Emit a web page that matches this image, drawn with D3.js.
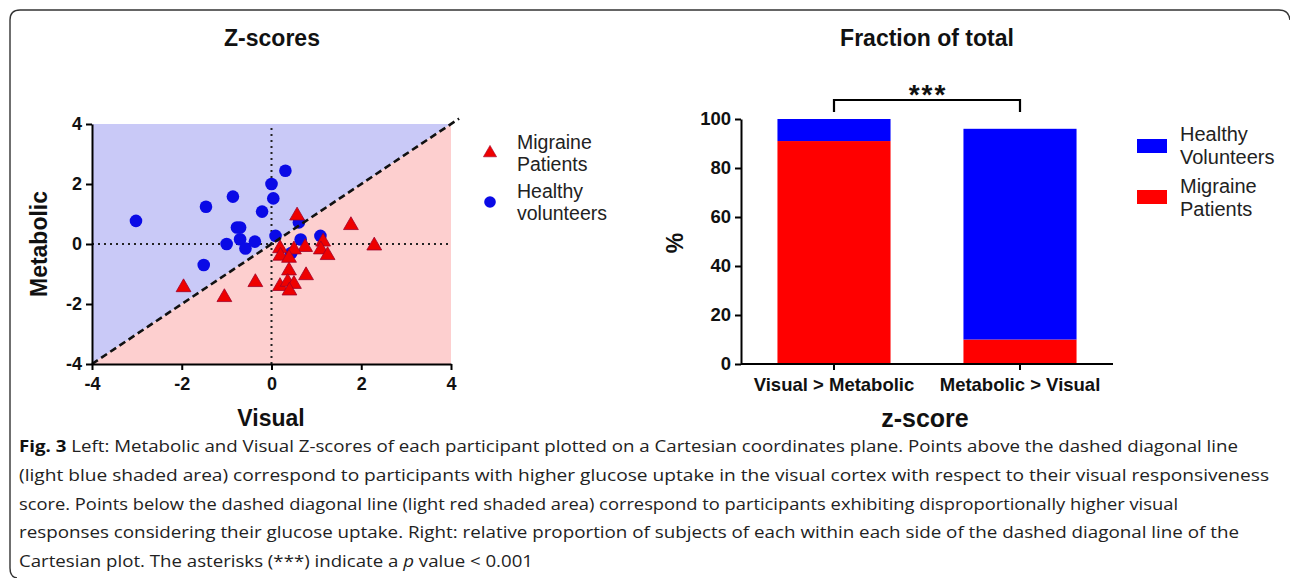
<!DOCTYPE html>
<html><head><meta charset="utf-8">
<script src="https://cdn.jsdelivr.net/npm/d3@7"></script>
<style>
html,body{margin:0;padding:0;background:#fff;}
svg{display:block;}
text{font-family:"Liberation Sans",Arial,sans-serif;}
</style></head>
<body>
<svg id="fig" width="1290" height="578"></svg>
<script>
// ---------- DATA ----------
const migraineX = [0.57,1.77,2.29,1.15,1.10,1.25,0.75,0.50,0.19,0.20,0.39,0.39,0.77,0.19,0.36,0.50,0.40,-0.36,-1.05,-1.96];
const migraineY = [0.91,0.59,-0.09,0.04,-0.22,-0.41,-0.14,-0.22,-0.18,-0.43,-0.50,-0.92,-1.08,-1.44,-1.30,-1.37,-1.59,-1.31,-1.81,-1.48];
const healthyX = [-3.02,-1.46,-0.86,-0.21,0.00,0.04,0.31,-0.77,-0.70,-0.70,-1.00,-0.58,-0.37,0.09,-1.51,0.61,0.65,1.09,0.44];
const healthyY = [0.77,1.24,1.58,1.08,2.00,1.52,2.44,0.55,0.55,0.16,0.00,-0.15,0.08,0.27,-0.70,0.72,0.15,0.27,-0.30];
const zTicks = [-4,-2,0,2,4];

const barCategories = ["Visual > Metabolic","Metabolic > Visual"];
const barMigraine = [91,10];
const barHealthy = [9,86];
const pctTicks = [0,20,40,60,80,100];

const captionLines = [
  [["Fig. 3","b"],[" Left: Metabolic and Visual Z-scores of each participant plotted on a Cartesian coordinates plane. Points above the dashed diagonal line",""]],
  [["(light blue shaded area) correspond to participants with higher glucose uptake in the visual cortex with respect to their visual responsiveness",""]],
  [["score. Points below the dashed diagonal line (light red shaded area) correspond to participants exhibiting disproportionally higher visual",""]],
  [["responses considering their glucose uptake. Right: relative proportion of subjects of each within each side of the dashed diagonal line of the",""]],
  [["Cartesian plot. The asterisks (***) indicate a ",""],["p","i"],[" value < 0.001",""]]
];
const captionWidths = [1219,1250,1159,1220,514];

// ---------- DRAW ----------
const svg = d3.select("#fig");

// frame
svg.append("path")
  .attr("d","M1290,20 Q1289,10 1279,10 L20,10 Q10,10 10,20 L10,568 Q10,577 17,578")
  .attr("fill","none").attr("stroke","#333").attr("stroke-width",1.4);

// ===== Scatter =====
const xS = d3.scaleLinear().domain([-4,4]).range([92,451]);
const yS = d3.scaleLinear().domain([-4,4]).range([364,124]);
const g1 = svg.append("g");

const poly = pts => "M" + pts.map(p => xS(p[0]) + "," + yS(p[1])).join("L") + "Z";
g1.append("path").attr("d", poly([[-4,-4],[-4,4],[4,4]])).attr("fill","#c9c9f7");
g1.append("path").attr("d", poly([[-4,-4],[4,-4],[4,4]])).attr("fill","#fdcfcf");

// dotted zero lines
g1.append("line").attr("x1",xS(-4)).attr("x2",xS(4)).attr("y1",yS(0)).attr("y2",yS(0))
  .attr("stroke","#222").attr("stroke-width",2).attr("stroke-dasharray","2,4");
g1.append("line").attr("x1",xS(0)).attr("x2",xS(0)).attr("y1",yS(-4)).attr("y2",yS(4))
  .attr("stroke","#222").attr("stroke-width",2).attr("stroke-dasharray","2,4");

// points
const healthy = healthyX.map((x,i)=>({x, y:healthyY[i]}));
const migraine = migraineX.map((x,i)=>({x, y:migraineY[i]}));
g1.selectAll("circle.h").data(healthy).join("circle")
  .attr("cx",d=>xS(d.x)).attr("cy",d=>yS(d.y)).attr("r",6.3).attr("fill","#0a0ae6");
const tri = d3.symbol().type(d3.symbolTriangle).size(95);
g1.selectAll("path.m").data(migraine).join("path")
  .attr("d",tri).attr("transform",d=>`translate(${xS(d.x)},${yS(d.y)-1})`)
  .attr("fill","#ee0000").attr("stroke","#a0002a").attr("stroke-width",0.8);

// dashed diagonal
g1.append("line").attr("x1",xS(-4)).attr("y1",yS(-4)).attr("x2",xS(4.18)).attr("y2",yS(4.18))
  .attr("stroke","#111").attr("stroke-width",2.6).attr("stroke-dasharray","7,4");

// axes
const ax = g1.append("g").attr("transform",`translate(0,${yS(-4)})`)
  .call(d3.axisBottom(xS).tickValues(zTicks).tickFormat(d=>String(d)).tickSize(6).tickSizeOuter(0));
const ay = g1.append("g").attr("transform",`translate(${xS(-4)},0)`)
  .call(d3.axisLeft(yS).tickValues(zTicks).tickFormat(d=>String(d)).tickSize(6).tickSizeOuter(0));
[ax,ay].forEach(a=>{
  a.selectAll("path,line").attr("stroke","#000").attr("stroke-width",2);
  a.selectAll("text").attr("fill","#111").style("font-size","18px").style("font-weight","bold");
});
ax.selectAll("text").attr("dy","0.95em");
ay.selectAll("text").attr("x",-10);

g1.append("text").attr("x",272).attr("y",46).attr("text-anchor","middle")
  .style("font-size","23px").style("font-weight","bold").attr("fill","#111").text("Z-scores");
g1.append("text").attr("x",271).attr("y",426).attr("text-anchor","middle")
  .style("font-size","23px").style("font-weight","bold").attr("fill","#111").text("Visual");
g1.append("text").attr("transform","translate(47,244) rotate(-90)").attr("text-anchor","middle")
  .style("font-size","23px").style("font-weight","bold").attr("fill","#111").text("Metabolic");

// legend
const lg = g1.append("g");
lg.append("path").attr("d",d3.symbol().type(d3.symbolTriangle).size(75)).attr("transform","translate(490,153)")
  .attr("fill","#ee0000").attr("stroke","#a0002a").attr("stroke-width",0.6);
lg.append("circle").attr("cx",490).attr("cy",202).attr("r",5.8).attr("fill","#0a0ae6");
[["Migraine",149],["Patients",171],["Healthy",198],["volunteers",220]].forEach(([t,y])=>{
  lg.append("text").attr("x",517).attr("y",y).style("font-size","19.5px").attr("fill","#222").text(t);
});

// ===== Bars =====
const xB = d3.scaleBand().domain(barCategories).range([741,1113]).paddingInner(0.392).paddingOuter(0.196);
const yB = d3.scaleLinear().domain([0,100]).range([364,119]);
const g2 = svg.append("g");
const rows = barCategories.map((c,i)=>({cat:c, Migraine:barMigraine[i], Healthy:barHealthy[i]}));
const stack = d3.stack().keys(["Migraine","Healthy"])(rows);
const colors = {Migraine:"#ff0000", Healthy:"#0000ff"};
g2.selectAll("g.s").data(stack).join("g").attr("fill",d=>colors[d.key])
  .selectAll("rect").data(d=>d).join("rect")
  .attr("x",d=>xB(d.data.cat)).attr("width",xB.bandwidth())
  .attr("y",d=>yB(d[1])).attr("height",d=>yB(d[0])-yB(d[1]));

const bx = g2.append("g").attr("transform",`translate(0,${yB(0)})`)
  .call(d3.axisBottom(xB).tickSize(6).tickSizeOuter(0));
const by = g2.append("g").attr("transform",`translate(741,0)`)
  .call(d3.axisLeft(yB).tickValues(pctTicks).tickSize(6).tickSizeOuter(0));
[bx,by].forEach(a=>{
  a.selectAll("path,line").attr("stroke","#000").attr("stroke-width",2);
  a.selectAll("text").attr("fill","#111").style("font-size","18.5px").style("font-weight","bold");
});
bx.select("path.domain").attr("d","M741,0H1113");
bx.selectAll("text").attr("dy","0.95em");
by.selectAll("text").attr("x",-10);

g2.append("text").attr("x",927).attr("y",46).attr("text-anchor","middle")
  .style("font-size","23px").style("font-weight","bold").attr("fill","#111").text("Fraction of total");
g2.append("text").attr("x",925).attr("y",427).attr("text-anchor","middle")
  .style("font-size","25px").style("font-weight","bold").attr("fill","#111").text("z-score");
g2.append("text").attr("transform","translate(683,243) rotate(-90)").attr("text-anchor","middle")
  .style("font-size","23px").style("font-weight","bold").attr("fill","#111").text("%");

// significance bracket
const c1 = xB(barCategories[0]) + xB.bandwidth()/2, c2 = xB(barCategories[1]) + xB.bandwidth()/2;
g2.append("path").attr("d",`M${c1},112V100H${c2}V112`).attr("fill","none").attr("stroke","#000").attr("stroke-width",2.2);
g2.append("text").attr("x",(c1+c2)/2 + 1).attr("y",104).attr("text-anchor","middle")
  .style("font-size","28px").style("font-weight","bold").style("letter-spacing","2px").attr("fill","#111").text("***");

// bar legend
const bl = g2.append("g");
bl.append("rect").attr("x",1137).attr("y",139).attr("width",30).attr("height",14).attr("fill","#0000ff");
bl.append("rect").attr("x",1137).attr("y",190).attr("width",30).attr("height",14).attr("fill","#ff0000");
[["Healthy",141],["Volunteers",164],["Migraine",193],["Patients",216]].forEach(([t,y])=>{
  bl.append("text").attr("x",1180).attr("y",y).style("font-size","20px").attr("fill","#222").text(t);
});

// ===== Caption =====
const cap = svg.append("g");
const baseY = [452,481,510,538,567];
captionLines.forEach((parts,i)=>{
  const t = cap.append("text").attr("x",19).attr("y",baseY[i])
    .style("font-family","'Open Sans',sans-serif").style("font-size","16.5px").attr("fill","#222")
    .attr("textLength",captionWidths[i]).attr("lengthAdjust","spacingAndGlyphs");
  parts.forEach(([s,st])=>{
    const ts = t.append("tspan").text(s);
    if(st==="b") ts.style("font-weight","bold").attr("fill","#111");
    if(st==="i") ts.style("font-style","italic");
  });
});
</script>
</body></html>
